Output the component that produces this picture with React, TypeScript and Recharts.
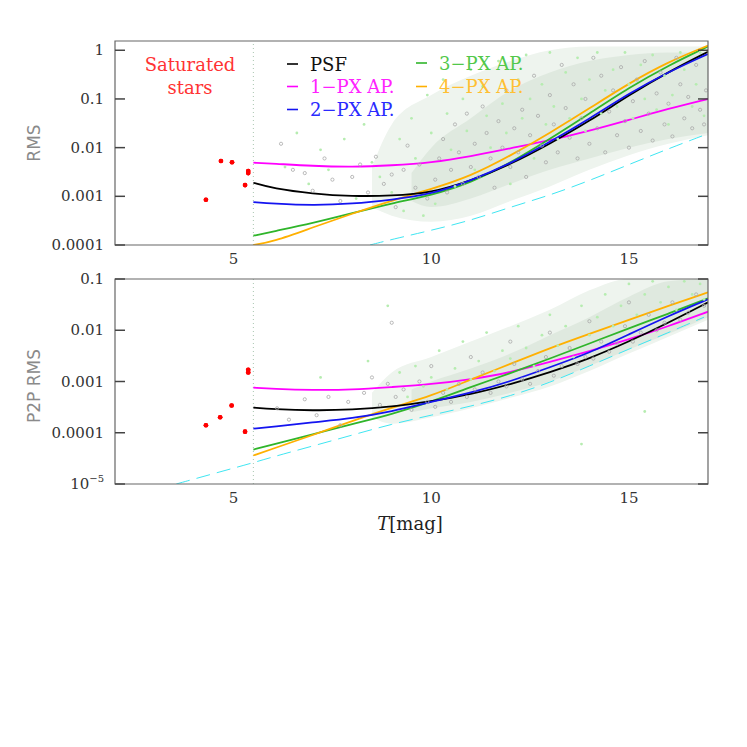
import React from "react";
import {
  ComposedChart,
  XAxis,
  YAxis,
  Line,
  Scatter,
  Area,
  ReferenceLine,
  ReferenceArea,
} from "recharts";

type Pt = [number, number];

const CURVE_MAG = [5.5, 6, 7, 8, 9, 10, 11, 12, 13, 14, 15, 16, 17];

// ---- upper panel: RMS ----
const RMS_PSF = [0.0019, 0.00145, 0.00113, 0.001, 0.00102, 0.00118, 0.0021, 0.0045, 0.012, 0.035, 0.12, 0.36, 0.93];
const RMS_AP1 = [0.0049, 0.0047, 0.0042, 0.004, 0.0043, 0.0049, 0.0066, 0.0097, 0.014, 0.022, 0.037, 0.063, 0.1];
const RMS_AP2 = [0.00076, 0.00071, 0.00065, 0.0007, 0.00085, 0.0011, 0.0021, 0.0047, 0.013, 0.039, 0.13, 0.36, 0.84];
const RMS_AP3 = [0.000155, 0.00019, 0.00028, 0.00045, 0.00072, 0.00105, 0.0019, 0.0048, 0.015, 0.05, 0.17, 0.49, 1.2];
const RMS_AP4 = [0.0001, 0.000117, 0.00023, 0.00044, 0.00082, 0.0014, 0.0026, 0.0068, 0.02, 0.064, 0.21, 0.58, 1.25];
const RMS_FLOOR: Pt[] = [[8.45, 0.0001], [9, 0.00013], [10, 0.0002], [11, 0.00032], [12, 0.0006], [13, 0.00105], [14, 0.0021], [15, 0.0045], [16, 0.0095], [16.9, 0.018]];
const RMS_SAT: Pt[] = [[4.3, 0.00085], [4.68, 0.0053], [4.96, 0.005], [5.29, 0.0017], [5.37, 0.0033], [5.37, 0.003]];

// envelope of the star cloud (outer = sparse edge, inner = dense core)
const RMS_OUTER_MAG = [8.5, 9, 10, 11, 12, 13, 14, 15, 16, 17];
const RMS_OUTER_LO = [0.0006, 0.0004, 0.0003, 0.0004, 0.0008, 0.0016, 0.0035, 0.007, 0.012, 0.018];
const RMS_OUTER_HI = [0.004, 0.03, 0.12, 0.3, 0.6, 1.0, 1.2, 1.2, 1.2, 1.2];
const RMS_INNER_MAG = [9.5, 10, 11, 12, 13, 14, 15, 16, 17];
const RMS_INNER_LO = [0.0008, 0.0006, 0.0009, 0.0018, 0.0035, 0.006, 0.01, 0.015, 0.02];
const RMS_INNER_HI = [0.003, 0.01, 0.04, 0.15, 0.35, 0.6, 0.8, 0.9, 0.9];

const RMS_GRAY: Pt[] = [
  [6.2, 0.012], [6.5, 0.0035], [6.8, 0.003], [7.0, 0.0013], [7.3, 0.006], [7.5, 0.0022], [7.7, 0.0008], [8.0, 0.0025],
  [8.2, 0.0045], [8.4, 0.0012], [8.6, 0.0065], [8.8, 0.0018], [9.0, 0.0028], [9.1, 0.0006], [9.3, 0.0035], [9.4, 0.011],
  [9.6, 0.0015], [9.7, 0.0045], [9.9, 0.0009], [10.1, 0.0022], [10.2, 0.006], [10.3, 0.015], [10.4, 0.0012], [10.5, 0.0035],
  [10.6, 0.03], [10.7, 0.008], [10.8, 0.0018], [10.9, 0.05], [11.0, 0.004], [11.1, 0.012], [11.2, 0.0025], [11.3, 0.07],
  [11.4, 0.02], [11.5, 0.006], [11.6, 0.0015], [11.7, 0.035], [11.8, 0.01], [11.9, 0.15], [12.0, 0.004], [12.1, 0.025],
  [12.2, 0.008], [12.3, 0.06], [12.4, 0.0025], [12.5, 0.018], [12.6, 0.3], [12.7, 0.045], [12.8, 0.011], [12.9, 0.005],
  [13.0, 0.12], [13.1, 0.03], [13.2, 0.008], [13.3, 0.5], [13.4, 0.065], [13.5, 0.016], [13.6, 0.2], [13.7, 0.006],
  [13.8, 0.04], [13.9, 0.1], [14.0, 0.012], [14.1, 0.7], [14.2, 0.025], [14.3, 0.3], [14.4, 0.008], [14.5, 0.055],
  [14.6, 0.15], [14.7, 0.018], [14.8, 0.45], [14.9, 0.035], [15.0, 0.01], [15.1, 0.09], [15.2, 0.25], [15.3, 0.022],
  [15.4, 0.6], [15.5, 0.05], [15.6, 0.014], [15.7, 0.13], [15.8, 0.35], [15.9, 0.03], [16.0, 0.08], [16.1, 0.017],
  [16.2, 0.7], [16.3, 0.2], [16.4, 0.04], [16.5, 0.11], [16.6, 0.025], [16.7, 0.5], [16.8, 0.06], [16.9, 0.03], [16.95, 0.15],
];
const RMS_GREEN: Pt[] = [
  [6.3, 0.004], [6.6, 0.02], [6.9, 0.0018], [7.2, 0.009], [7.4, 0.0035], [7.8, 0.015], [8.1, 0.0009], [8.3, 0.03],
  [8.5, 0.005], [8.7, 0.0025], [8.9, 0.08], [9.0, 0.0012], [9.2, 0.015], [9.3, 0.0005], [9.5, 0.04], [9.6, 0.006],
  [9.8, 0.0004], [9.9, 0.12], [10.0, 0.02], [10.1, 0.0007], [10.3, 0.25], [10.4, 0.05], [10.5, 0.009], [10.6, 0.0016],
  [10.8, 0.1], [10.9, 0.022], [11.0, 0.4], [11.1, 0.0035], [11.3, 0.18], [11.4, 0.045], [11.5, 0.01], [11.7, 0.6],
  [11.8, 0.08], [11.9, 0.02], [12.0, 0.0018], [12.2, 0.25], [12.3, 0.04], [12.4, 0.8], [12.5, 0.1], [12.6, 0.006],
  [12.8, 0.2], [12.9, 0.03], [13.0, 0.9], [13.1, 0.07], [13.2, 0.015], [13.4, 0.35], [13.5, 0.04], [13.7, 0.7],
  [13.8, 0.1], [13.9, 0.022], [14.0, 0.25], [14.2, 0.9], [14.3, 0.05], [14.4, 0.15], [14.6, 0.4], [14.7, 0.07],
  [14.9, 0.9], [15.0, 0.2], [15.1, 0.04], [15.3, 0.5], [15.4, 0.1], [15.6, 0.8], [15.7, 0.06], [15.9, 0.3],
  [16.0, 0.03], [16.1, 0.12], [16.3, 0.9], [16.4, 0.4], [16.6, 0.07], [16.7, 0.2], [16.8, 0.9], [16.9, 0.045],
];

// ---- lower panel: point-to-point RMS ----
const P2P_PSF = [0.00031, 0.00029, 0.00027, 0.00028, 0.00032, 0.00041, 0.00056, 0.00088, 0.0015, 0.0028, 0.006, 0.014, 0.035];
const P2P_AP1 = [0.00076, 0.00072, 0.00068, 0.00069, 0.00078, 0.00088, 0.0011, 0.0015, 0.0024, 0.0039, 0.0066, 0.012, 0.023];
const P2P_AP2 = [0.00012, 0.00013, 0.00016, 0.00019, 0.00026, 0.0004, 0.0006, 0.001, 0.0019, 0.0036, 0.0083, 0.019, 0.04];
const P2P_AP3 = [0.000047, 0.000059, 0.000093, 0.000148, 0.00023, 0.0004, 0.00078, 0.00145, 0.0028, 0.0055, 0.011, 0.021, 0.042];
const P2P_AP4 = [0.000036, 0.000049, 0.00009, 0.00017, 0.00031, 0.00052, 0.0011, 0.0022, 0.0045, 0.0085, 0.016, 0.03, 0.055];
const P2P_FLOOR: Pt[] = [[3.55, 0.00001], [4.5, 0.000016], [5.5, 0.000026], [6, 0.000034], [7, 0.000055], [8, 0.00009], [9, 0.000148], [10, 0.00022], [11, 0.00033], [12, 0.00052], [13, 0.00095], [14, 0.002], [15, 0.0043], [16, 0.009], [16.9, 0.018]];
const P2P_SAT: Pt[] = [[4.3, 0.00014], [4.66, 0.0002], [4.95, 0.00034], [5.29, 0.000105], [5.37, 0.0017], [5.37, 0.0015]];

const P2P_OUTER_MAG = [8.5, 9, 10, 11, 12, 13, 14, 15, 16, 17];
const P2P_OUTER_LO = [0.0002, 0.00015, 0.0002, 0.0003, 0.00048, 0.0008, 0.0016, 0.0035, 0.0075, 0.016];
const P2P_OUTER_HI = [0.0006, 0.0015, 0.003, 0.006, 0.012, 0.025, 0.06, 0.1, 0.1, 0.1];
const P2P_INNER_MAG = [9.5, 10, 11, 12, 13, 14, 15, 16, 17];
const P2P_INNER_LO = [0.00025, 0.0003, 0.0004, 0.0006, 0.001, 0.002, 0.0042, 0.0085, 0.018];
const P2P_INNER_HI = [0.0007, 0.001, 0.0018, 0.0035, 0.008, 0.018, 0.045, 0.09, 0.1];

const P2P_GRAY: Pt[] = [
  [6.1, 0.0003], [6.4, 0.00018], [6.8, 0.00045], [7.1, 0.00022], [7.4, 0.0005], [7.7, 0.00014], [7.9, 0.0004], [8.3, 0.0006],
  [8.5, 0.0012], [8.7, 0.00035], [8.9, 0.0009], [9.0, 0.014], [9.1, 0.0005], [9.3, 0.0007], [9.5, 0.00028], [9.7, 0.001],
  [9.9, 0.0004], [10.0, 0.002], [10.1, 0.00032], [10.3, 0.0006], [10.5, 0.0004], [10.7, 0.0009], [10.9, 0.0005], [11.0, 0.003],
  [11.1, 0.0007], [11.3, 0.0015], [11.5, 0.0006], [11.7, 0.001], [11.9, 0.0008], [12.0, 0.006], [12.1, 0.0022], [12.3, 0.0011],
  [12.5, 0.0009], [12.7, 0.0016], [12.9, 0.003], [13.0, 0.009], [13.1, 0.0013], [13.3, 0.002], [13.5, 0.0045], [13.7, 0.0022],
  [13.9, 0.003], [14.0, 0.015], [14.1, 0.0028], [14.3, 0.006], [14.5, 0.0038], [14.7, 0.0055], [14.9, 0.012], [15.0, 0.035],
  [15.1, 0.006], [15.3, 0.009], [15.5, 0.02], [15.7, 0.01], [15.9, 0.014], [16.1, 0.035], [16.3, 0.016], [16.5, 0.022],
  [16.7, 0.05], [16.9, 0.03],
];
const P2P_GREEN: Pt[] = [
  [7.2, 0.0012], [8.4, 0.0025], [8.9, 0.03], [9.2, 0.0015], [9.4, 0.0005], [9.6, 0.002], [9.8, 0.0008], [10.0, 0.0012],
  [10.2, 0.004], [10.4, 0.0007], [10.6, 0.0018], [10.8, 0.006], [11.0, 0.0011], [11.2, 0.0025], [11.4, 0.009], [11.6, 0.0016],
  [11.8, 0.004], [12.0, 0.0028], [12.2, 0.012], [12.4, 0.0045], [12.6, 0.002], [12.8, 0.008], [13.0, 0.02], [13.2, 0.005],
  [13.4, 0.012], [13.6, 0.003], [13.8, 0.03], [13.8, 0.00006], [14.0, 0.008], [14.2, 0.018], [14.4, 0.05], [14.6, 0.012],
  [14.8, 0.03], [15.0, 0.08], [15.2, 0.02], [15.4, 0.05], [15.4, 0.00026], [15.6, 0.09], [15.8, 0.035], [16.0, 0.07],
  [16.2, 0.025], [16.4, 0.09], [16.6, 0.05], [16.8, 0.08], [16.9, 0.04],
];

const MAG_MIN = 2;
const MAG_MAX = 17;
const MAG_TICKS = [3, 4, 5, 6, 7, 8, 9, 10, 11, 12, 13, 14, 15, 16];
const MAG_LABELS = [5, 10, 15];
const RMS_DECADES = [0.0001, 0.001, 0.01, 0.1, 1];
const P2P_DECADES = [0.00001, 0.0001, 0.001, 0.01, 0.1];

const COLORS = {
  psf: "#000000",
  ap1: "#ff00ff",
  ap2: "#1414f0",
  ap3: "#2fb52a",
  ap4: "#ffb000",
  floor: "#3fe6f2",
  sat: "#ff0000",
};

const PLOT_L = 115;
const PLOT_R = 708;
const SERIF = "DejaVu Serif";
const TICK = "#444";
const PX_PER_MAG = (PLOT_R - PLOT_L) / (MAG_MAX - MAG_MIN);

const toRows = (xs: number[], ys: number[]) => xs.map((x, i) => ({ x, y: ys[i] }));
const ptRows = (pts: Pt[]) => pts.map(([x, y]) => ({ x, y }));
const bandRows = (xs: number[], lo: number[], hi: number[]) => xs.map((x, i) => ({ x, band: [lo[i], hi[i]] }));
const minorTicks = (decades: number[], max: number) =>
  decades.flatMap((d) => [1, 2, 3, 4, 5, 6, 7, 8, 9].map((m) => +(d * m).toPrecision(3))).filter((v) => v <= max);

const isDecade = (v: number) => Math.abs(Math.log10(v) - Math.round(Math.log10(v))) < 1e-6;

function yLabel(v: number) {
  if (v < 0.00005) {
    return (
      <>
        <tspan>10</tspan>
        <tspan dy={-6} fontSize={10}>−5</tspan>
      </>
    );
  }
  return String(v);
}

const GrayDot = (p: any) => <circle cx={p.cx} cy={p.cy} r={1.6} fill="none" stroke="#aaaaaa" strokeWidth={0.8} />;
const GreenDot = (p: any) => <circle cx={p.cx} cy={p.cy} r={1.4} fill="#b6ecb0" />;
const RedDot = (p: any) => <circle cx={p.cx} cy={p.cy} r={2.3} fill={COLORS.sat} />;

type Band = { x: number; band: number[] }[];

type PanelProps = {
  top: number;
  bottom: number;
  yMin: number;
  yMax: number;
  decades: number[];
  curves: { key: string; ys: number[] }[];
  floor: Pt[];
  sat: Pt[];
  gray: Pt[];
  green: Pt[];
  outer: Band;
  inner: Band;
};

// data layer: cloud, curves and axis labels
function Panel({ top, bottom, yMin, yMax, decades, curves, floor, gray, green, outer, inner }: PanelProps) {
  const height = bottom + 30;
  const yTicks = minorTicks(decades, yMax);

  const XTick = (p: any) => {
    const v = p.payload.value;
    if (!MAG_LABELS.includes(v)) return <g />;
    return (
      <text x={p.x} y={bottom + 14} textAnchor="middle" dominantBaseline="central" fontFamily={SERIF} fontSize={15} fill="#333">
        {v}
      </text>
    );
  };

  const YTick = (p: any) => {
    const v = p.payload.value;
    if (!isDecade(v)) return <g />;
    return (
      <text x={104} y={p.y} textAnchor="end" dominantBaseline="central" fontFamily={SERIF} fontSize={15} fill="#333">
        {yLabel(v)}
      </text>
    );
  };

  return (
    <div style={{ position: "absolute", left: 0, top: 0 }}>
      <ComposedChart width={747} height={height} margin={{ top, right: 747 - PLOT_R, left: 0, bottom: 0 }}>
        <XAxis type="number" dataKey="x" domain={[MAG_MIN, MAG_MAX]} allowDataOverflow ticks={MAG_TICKS} interval={0}
          tick={XTick} tickLine={false} axisLine={false} height={30} />
        <YAxis type="number" scale="log" domain={[yMin, yMax]} allowDataOverflow ticks={yTicks} interval={0}
          tick={YTick} tickLine={false} axisLine={false} width={PLOT_L} />
        <Area data={outer} dataKey="band" type="monotone" stroke="none" fill="#eef4ee" fillOpacity={1} isAnimationActive={false} />
        <Area data={inner} dataKey="band" type="monotone" stroke="none" fill="#dfe9df" fillOpacity={1} isAnimationActive={false} />
        <Scatter data={ptRows(green)} dataKey="y" shape={GreenDot} isAnimationActive={false} />
        <Scatter data={ptRows(gray)} dataKey="y" shape={GrayDot} isAnimationActive={false} />
        <ReferenceLine x={5.5} stroke="#a9c6b0" strokeDasharray="1 3" />
        <Line data={ptRows(floor)} dataKey="y" type="basis" stroke={COLORS.floor} strokeWidth={1}
          strokeDasharray="14 7" dot={false} isAnimationActive={false} />
        {curves.map((c) => (
          <Line key={c.key} data={toRows(CURVE_MAG, c.ys)} dataKey="y" type="basis" stroke={(COLORS as any)[c.key]}
            strokeWidth={1.8} dot={false} isAnimationActive={false} />
        ))}
      </ComposedChart>
    </div>
  );
}

// frame layer: saturated stars, inward ticks on all four sides, box
function Frame({ top, bottom, yMin, yMax, decades, sat }: PanelProps) {
  const height = bottom + 30;
  const yTicks = minorTicks(decades, yMax);
  const decadeTicks = yTicks.filter(isDecade);
  const tickStyle = { stroke: TICK, strokeWidth: 1.5 };

  return (
    <div style={{ position: "absolute", left: 0, top: 0 }}>
      <ComposedChart width={747} height={height} margin={{ top, right: 747 - PLOT_R, left: 0, bottom: 0 }}>
        <XAxis type="number" dataKey="x" domain={[MAG_MIN, MAG_MAX]} allowDataOverflow ticks={MAG_TICKS} interval={0}
          tick={false} tickSize={-6} tickLine={tickStyle} axisLine={false} height={30} />
        <XAxis xAxisId="top" orientation="top" type="number" dataKey="x" domain={[MAG_MIN, MAG_MAX]} allowDataOverflow
          ticks={MAG_TICKS} interval={0} tick={false} tickSize={-6} tickLine={tickStyle} axisLine={false} height={0} />
        <YAxis type="number" scale="log" domain={[yMin, yMax]} allowDataOverflow ticks={yTicks} interval={0}
          tick={false} tickSize={-5} tickLine={tickStyle} axisLine={false} width={PLOT_L} />
        <YAxis yAxisId="right" orientation="right" type="number" scale="log" domain={[yMin, yMax]} allowDataOverflow
          ticks={yTicks} interval={0} tick={false} tickSize={-5} tickLine={tickStyle} axisLine={false} width={0} />
        <Scatter data={ptRows(sat)} dataKey="y" shape={RedDot} isAnimationActive={false} />
        <Scatter data={ptRows(sat)} dataKey="y" xAxisId="top" yAxisId="right" shape={RedDot} isAnimationActive={false} />
        {/* longer ticks at each decade */}
        {decadeTicks.map((v) => (
          <ReferenceLine key={`yl${v}`} segment={[{ x: MAG_MIN, y: v }, { x: MAG_MIN + 10 / PX_PER_MAG, y: v }]}
            stroke={TICK} strokeWidth={1.5} ifOverflow="visible" />
        ))}
        {decadeTicks.map((v) => (
          <ReferenceLine key={`yr${v}`} segment={[{ x: MAG_MAX, y: v }, { x: MAG_MAX - 10 / PX_PER_MAG, y: v }]}
            stroke={TICK} strokeWidth={1.5} ifOverflow="visible" />
        ))}
        <ReferenceArea x1={MAG_MIN} x2={MAG_MAX} y1={yMin} y2={yMax} fill="none" stroke="#666" strokeWidth={1.2} />
      </ComposedChart>
    </div>
  );
}

const LEGEND = [
  { label: "PSF", line: COLORS.psf, text: "#111", x: 287, y: 64 },
  { label: "1−PX AP.", line: COLORS.ap1, text: "#ff22ff", x: 287, y: 86.5 },
  { label: "2−PX AP.", line: COLORS.ap2, text: "#2a2aff", x: 287, y: 109.5 },
  { label: "3−PX AP.", line: COLORS.ap3, text: "#52c84a", x: 416, y: 63 },
  { label: "4−PX AP.", line: COLORS.ap4, text: "#ffbf33", x: 416, y: 86.5 },
];

const TOP_PANEL: PanelProps = {
  top: 41,
  bottom: 245,
  yMin: 0.0001,
  yMax: 1.55,
  decades: RMS_DECADES,
  curves: [
    { key: "ap1", ys: RMS_AP1 },
    { key: "ap3", ys: RMS_AP3 },
    { key: "ap4", ys: RMS_AP4 },
    { key: "psf", ys: RMS_PSF },
    { key: "ap2", ys: RMS_AP2 },
  ],
  floor: RMS_FLOOR,
  sat: RMS_SAT,
  gray: RMS_GRAY,
  green: RMS_GREEN,
  outer: bandRows(RMS_OUTER_MAG, RMS_OUTER_LO, RMS_OUTER_HI),
  inner: bandRows(RMS_INNER_MAG, RMS_INNER_LO, RMS_INNER_HI),
};

const BOTTOM_PANEL: PanelProps = {
  top: 279,
  bottom: 484,
  yMin: 0.00001,
  yMax: 0.1,
  decades: P2P_DECADES,
  curves: [
    { key: "ap1", ys: P2P_AP1 },
    { key: "ap3", ys: P2P_AP3 },
    { key: "ap4", ys: P2P_AP4 },
    { key: "psf", ys: P2P_PSF },
    { key: "ap2", ys: P2P_AP2 },
  ],
  floor: P2P_FLOOR,
  sat: P2P_SAT,
  gray: P2P_GRAY,
  green: P2P_GREEN,
  outer: bandRows(P2P_OUTER_MAG, P2P_OUTER_LO, P2P_OUTER_HI),
  inner: bandRows(P2P_INNER_MAG, P2P_INNER_LO, P2P_INNER_HI),
};

export default function App() {
  return (
    <div style={{ position: "absolute", left: 0, top: 0, width: 747, height: 747, background: "#fff" }}>
      <Panel {...TOP_PANEL} />
      <Panel {...BOTTOM_PANEL} />
      <Frame {...TOP_PANEL} />
      <Frame {...BOTTOM_PANEL} />
      <svg width={747} height={747} style={{ position: "absolute", left: 0, top: 0, pointerEvents: "none" }}>
        <text x={34} y={143} transform="rotate(-90 34 143)" textAnchor="middle" dominantBaseline="central" fontFamily="DejaVu Sans" fontSize={17} fill="#8a8a8a">
          RMS
        </text>
        <text x={34} y={386} transform="rotate(-90 34 386)" textAnchor="middle" dominantBaseline="central" fontFamily="DejaVu Sans" fontSize={17} fill="#8a8a8a">
          P2P RMS
        </text>
        <text x={410} y={523} textAnchor="middle" dominantBaseline="central" fontFamily={SERIF} fontSize={18} fill="#222">
          <tspan fontStyle="italic">T</tspan>
          <tspan>[mag]</tspan>
        </text>
        <text x={190} y={64.5} textAnchor="middle" dominantBaseline="central" fontFamily={SERIF} fontSize={18} fill="#ff3333">
          Saturated
        </text>
        <text x={190} y={87} textAnchor="middle" dominantBaseline="central" fontFamily={SERIF} fontSize={18} fill="#ff3333">
          stars
        </text>
        {LEGEND.map((l) => (
          <g key={l.label}>
            <line x1={l.x} x2={l.x + 11} y1={l.y} y2={l.y} stroke={l.line} strokeWidth={1.6} />
            <text x={l.x + 23} y={l.y} dominantBaseline="central" fontFamily={SERIF} fontSize={18} fill={l.text}>
              {l.label}
            </text>
          </g>
        ))}
      </svg>
    </div>
  );
}
